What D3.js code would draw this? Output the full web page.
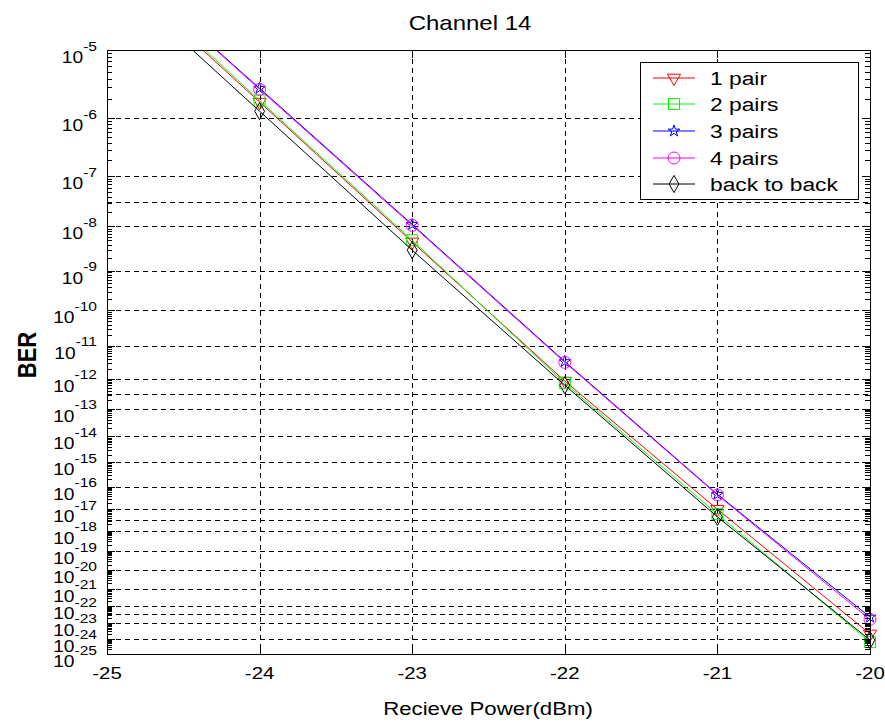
<!DOCTYPE html>
<html>
<head>
<meta charset="utf-8">
<script src="https://cdn.jsdelivr.net/npm/d3@7"></script>
<style>
  body { margin: 0; background: #fff; }
  text { font-family: "Liberation Sans", Arial, sans-serif; fill: #000; }
</style>
</head>
<body>
<div id="chart"></div>
<script>
// données
const power = [-25, -24, -23, -22, -21, -20];
const onePair = [1.1e-4, 1.8e-6, 4.6e-9, 8.3e-13, 1.0e-17, 2.0e-24];
const twoPairs = [1.2e-4, 1.9e-6, 5.0e-9, 7.1e-13, 6.0e-18, 6.0e-25];
const threePairs = [1.4e-4, 2.9e-6, 1.1e-8, 3.4e-12, 4.6e-17, 2.2e-23];
const fourPairs = [1.4e-4, 2.8e-6, 1.05e-8, 3.2e-12, 4.3e-17, 1.6e-23];
const backToBack = [8.7e-5, 1.3e-6, 3.0e-9, 6.1e-13, 4.5e-18, 8.1e-25];

const seriesNames = ["1 pair", "2 pairs", "3 pairs", "4 pairs", "back to back"];
const seriesColors = ["#ff0000", "#00ff00", "#0000ff", "#ff00ff", "#000000"];

const xTicks = [-25, -24, -23, -22, -21, -20];
const yTickExp = d3.range(5, 26);           // 10^-5 ... 10^-25
const yExtraGrid = [7.5, 12.5, 17.5, 22.5]; // lignes de grille sans étiquette

const width = 885;
const height = 724;
const pLeft = 107, pRight = 870, pTop = 50, pBottom = 654;
const sx = 1.2; // étirement horizontal du texte

const x = d3.scaleLinear().domain([-25, -20]).range([pLeft, pRight]);
// échelle BER : log de -log10(BER)
const y = d3.scaleLog().domain([5, 25]).range([pTop, pBottom]);
const yB = (b) => y(-Math.log10(b));

const svg = d3.select("#chart").append("svg")
  .attr("width", width).attr("height", height);

svg.append("defs").append("clipPath").attr("id", "clip")
  .append("rect").attr("x", pLeft).attr("y", pTop)
  .attr("width", pRight - pLeft).attr("height", pBottom - pTop);

// texte étiré
function label(tx, ty, str, size, anchor, extra) {
  const g = svg.append("g").attr("transform", `translate(${tx},${ty}) scale(${sx},1)` + (extra || ""));
  return g.append("text").attr("text-anchor", anchor || "middle")
    .attr("font-size", size).text(str);
}

// grille
const grid = svg.append("g").attr("stroke", "#000").attr("stroke-width", 1)
  .attr("stroke-dasharray", "5,4").attr("fill", "none");
grid.selectAll(".gx").data(xTicks.slice(1, -1)).join("line")
  .attr("x1", d => Math.round(x(d)) + 0.5).attr("x2", d => Math.round(x(d)) + 0.5)
  .attr("y1", pTop).attr("y2", pBottom);
grid.selectAll(".gy").data(yTickExp.slice(1, -1).concat(yExtraGrid)).join("line")
  .attr("x1", pLeft).attr("x2", pRight)
  .attr("y1", d => Math.round(y(d)) + 0.5).attr("y2", d => Math.round(y(d)) + 0.5);

// séries
const series = [onePair, twoPairs, threePairs, fourPairs, backToBack].map((vals, i) => ({
  name: seriesNames[i],
  color: seriesColors[i],
  points: vals.map((b, j) => ({ p: power[j], b: b }))
}));

const symbols = [
  { type: d3.symbolTriangle, size: 75, rot: 180 },
  { type: d3.symbolSquare, size: 121, rot: 0 },
  { type: d3.symbolStar, size: 42, rot: 0 },
  { type: d3.symbolCircle, size: 113, rot: 0 },
  { type: d3.symbolDiamond, size: 85, rot: 0 }
];

const line = d3.line().x(d => x(d.p)).y(d => yB(d.b));

series.forEach((s, i) => {
  svg.append("path").datum(s.points)
    .attr("clip-path", "url(#clip)")
    .attr("fill", "none").attr("stroke", s.color).attr("stroke-width", 1)
    .attr("d", line);
  const sym = symbols[i];
  svg.selectAll(".m" + i).data(s.points.filter(d => d.b <= 1e-5)).join("path")
    .attr("transform", d => `translate(${x(d.p)},${yB(d.b)}) rotate(${sym.rot})`)
    .attr("d", d3.symbol(sym.type, sym.size))
    .attr("fill", "none").attr("stroke", s.color).attr("stroke-width", 1);
});

// cadre et graduations
svg.append("rect").attr("x", pLeft + 0.5).attr("y", pTop + 0.5)
  .attr("width", pRight - pLeft).attr("height", pBottom - pTop)
  .attr("fill", "none").attr("stroke", "#000");

const ticks = svg.append("g").attr("stroke", "#000").attr("stroke-width", 1);
xTicks.forEach(v => {
  const px = Math.round(x(v)) + 0.5;
  ticks.append("line").attr("x1", px).attr("x2", px).attr("y1", pBottom).attr("y2", pBottom - 8);
  ticks.append("line").attr("x1", px).attr("x2", px).attr("y1", pTop).attr("y2", pTop + 8);
});
yTickExp.forEach(n => {
  const py = Math.round(y(n)) + 0.5;
  ticks.append("line").attr("x1", pLeft).attr("x2", pLeft + 8).attr("y1", py).attr("y2", py);
  ticks.append("line").attr("x1", pRight).attr("x2", pRight - 8).attr("y1", py).attr("y2", py);
});
// petites graduations : k x 10^-m
const minor = [];
d3.range(6, 26).forEach(m => d3.range(2, 10).forEach(k => minor.push(m - Math.log10(k))));
minor.forEach(n => {
  const py = Math.round(y(n)) + 0.5;
  ticks.append("line").attr("x1", pLeft).attr("x2", pLeft + 5).attr("y1", py).attr("y2", py);
  ticks.append("line").attr("x1", pRight).attr("x2", pRight - 5).attr("y1", py).attr("y2", py);
});

// étiquettes des axes
xTicks.forEach(v => label(x(v), 679, String(v), 17, "middle"));
yTickExp.forEach(n => {
  const t = label(97, y(n), null, 16, "end");
  t.append("tspan").attr("dy", 13).text("10");
  t.append("tspan").attr("dy", -12.5).attr("font-size", 13).text("-" + n);
});

label(470, 30, "Channel 14", 20, "middle");
label(488, 715, "Recieve Power(dBm)", 18.5, "middle");
label(36, 355, "BER", 22, "middle", " rotate(-90)").attr("font-weight", "bold");

// légende
const lg = svg.append("g");
lg.append("rect").attr("x", 640.5).attr("y", 62.5).attr("width", 218).attr("height", 137)
  .attr("fill", "#fff").attr("stroke", "#000");
const legY = [78, 104, 131, 158, 184];
series.forEach((s, i) => {
  const ly = legY[i];
  lg.append("line").attr("x1", 653).attr("x2", 695).attr("y1", ly).attr("y2", ly)
    .attr("stroke", s.color);
  const sym = symbols[i];
  lg.append("path").attr("transform", `translate(674,${ly}) rotate(${sym.rot})`)
    .attr("d", d3.symbol(sym.type, sym.size))
    .attr("fill", "none").attr("stroke", s.color);
  label(710, ly + 7, s.name, 19, "start");
});
</script>
</body>
</html>
